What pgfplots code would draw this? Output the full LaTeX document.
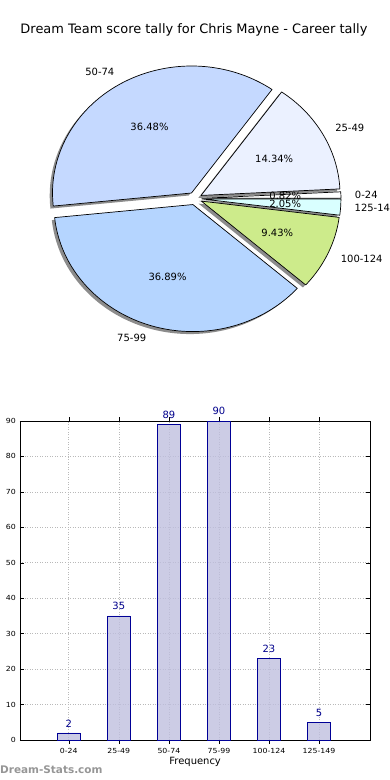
\documentclass[border=0pt]{standalone}
\usepackage{fontspec}
\setmainfont{DejaVu Sans}
\newfontfamily\tickfont[FakeStretch=1.12]{DejaVu Sans}
\usepackage{pgfplots}
\pgfplotsset{compat=1.18}

\definecolor{cA}{RGB}{255,255,255}
\definecolor{cB}{RGB}{235,241,255}
\definecolor{cC}{RGB}{197,217,255}
\definecolor{cD}{RGB}{181,213,255}
\definecolor{cE}{RGB}{205,235,139}
\definecolor{cF}{RGB}{217,255,255}
\definecolor{shad}{RGB}{140,140,140}
\definecolor{barfill}{RGB}{191,191,222}
\definecolor{baredge}{RGB}{0,0,150}
\definecolor{valcol}{RGB}{0,0,140}
\definecolor{wm}{RGB}{150,150,150}

% pie data: counts 2,35,89,90,23,5 (cumulative 0,2,37,126,216,239,244)
\def\total{244}
\def\cx{195}\def\cy{191.5}\def\rx{139}\def\ry{127}\def\ex{0.05}
\newcommand\piefont{\fontsize{10}{12}\selectfont}

\newcommand\pieangles[2]{%
  \pgfmathsetmacro\aS{#1*(360/\total)}%
  \pgfmathsetmacro\aE{#2*(360/\total)}%
  \pgfmathsetmacro\aM{(\aS+\aE)/2}%
  \pgfmathsetmacro\ox{\cx+\ex*\rx*cos(\aM)}%
  \pgfmathsetmacro\oy{\cy+\ex*\ry*sin(\aM)}%
}
\newcommand\pieshadow[2]{%
  \pieangles{#1}{#2}%
  \pgfmathsetmacro\ox{\ox-2.8}%
  \pgfmathsetmacro\oy{\oy-2.5}%
  \pgfmathsetmacro\sx{\ox+\rx*cos(\aS)}%
  \pgfmathsetmacro\sy{\oy+\ry*sin(\aS)}%
  \edef\doit{\noexpand\fill[shad] (axis cs:\ox,\oy) -- (axis cs:\sx,\sy) arc[start angle=\aS, end angle=\aE, x radius=\rx bp, y radius=\ry bp] -- cycle;}\doit
}
\newcommand\piewedge[3]{%
  \pieangles{#1}{#2}%
  \pgfmathsetmacro\sx{\ox+\rx*cos(\aS)}%
  \pgfmathsetmacro\sy{\oy+\ry*sin(\aS)}%
  \edef\doit{\noexpand\filldraw[fill=#3, draw=black, line width=0.7bp, line join=round] (axis cs:\ox,\oy) -- (axis cs:\sx,\sy) arc[start angle=\aS, end angle=\aE, x radius=\rx bp, y radius=\ry bp] -- cycle;}\doit
}
\newcommand\pielabels[3]{%
  \pieangles{#1}{#2}%
  \pgfmathsetmacro\lx{\ox+1.1*\rx*cos(\aM)}%
  \pgfmathsetmacro\ly{\oy+1.1*\ry*sin(\aM)}%
  \pgfmathsetmacro\qx{\ox+0.6*\rx*cos(\aM)}%
  \pgfmathsetmacro\qy{\oy+0.6*\ry*sin(\aM)}%
  \pgfmathsetmacro\pct{(#2-#1)*100/\total}%
  \pgfmathsetmacro\cM{cos(\aM)}%
  \ifdim\cM pt>0pt \def\anch{west}\else\def\anch{east}\fi
  \edef\doit{\noexpand\node[anchor=\anch, inner sep=0pt, font=\noexpand\piefont] at (axis cs:\lx,\ly) {#3};
    \noexpand\node[inner sep=0pt, font=\noexpand\piefont] at (axis cs:\qx,\qy) {\noexpand\pgfmathprintnumber[fixed,fixed zerofill,precision=2,assume math mode=true]{\pct}\noexpand\%};}\doit
}

\begin{document}
\begin{tikzpicture}
\node[font=\fontsize{13}{15}\selectfont] at (194bp,750bp) {Dream Team score tally for Chris Mayne - Career tally};

\begin{axis}[at={(0bp,390bp)}, anchor=south west, scale only axis, width=390bp, height=390bp,
  xmin=0, xmax=390, ymin=0, ymax=390, hide axis, clip=false]
  \pieshadow{0}{2}\pieshadow{2}{37}\pieshadow{37}{126}\pieshadow{126}{216}\pieshadow{216}{239}\pieshadow{239}{244}
  \piewedge{0}{2}{cA}\piewedge{2}{37}{cB}\piewedge{37}{126}{cC}\piewedge{126}{216}{cD}\piewedge{216}{239}{cE}\piewedge{239}{244}{cF}
  \pielabels{0}{2}{0-24}\pielabels{2}{37}{25-49}\pielabels{37}{126}{50-74}\pielabels{126}{216}{75-99}\pielabels{216}{239}{100-124}\pielabels{239}{244}{125-149}
\end{axis}

\begin{axis}[at={(20bp,40bp)}, anchor=south west, scale only axis, width=350.3bp, height=319bp,
  xmin=-0.975, xmax=6.025, ymin=0, ymax=90,
  ytick={0,10,...,90}, xtick={0,...,5},
  xticklabels={0-24,25-49,50-74,75-99,100-124,125-149},
  /pgf/number format/assume math mode=true,
  tick label style={font=\tickfont\fontsize{7}{8}\selectfont, inner sep=0pt},
  yticklabel style={xshift=-4bp},
  xticklabel style={yshift=-4bp},
  tick align=inside, major tick length=4bp, tick style={black, line width=0.5bp},
  tick pos=both,
  grid=major, major grid style={gray!55, line width=0.6bp, dash pattern=on 1bp off 1.5bp},
  axis line style={black, line width=0.8bp},
  xlabel={Frequency}, xlabel style={font=\fontsize{10}{12}\selectfont, at={(axis description cs:0.5,0)}, anchor=center, yshift=-22bp},
  ybar, bar width=22.5bp,
  nodes near coords,
  nodes near coords style={font=\fontsize{10}{12}\selectfont, text=valcol, inner sep=0pt, anchor=south, yshift=5.5bp},
  clip=false]
  \addplot[fill=barfill, fill opacity=0.8, text opacity=1, draw=baredge, line width=0.8bp] coordinates {(0,2) (1,35) (2,89) (3,90) (4,23) (5,5)};
\end{axis}

\node[anchor=west, inner sep=0pt, font=\bfseries\fontsize{10.5}{12}\selectfont, text=wm] at (0bp,10bp) {Dream-Stats.com};
\pgfresetboundingbox
\useasboundingbox (0bp,0bp) rectangle (390bp,780bp);
\end{tikzpicture}
\end{document}
